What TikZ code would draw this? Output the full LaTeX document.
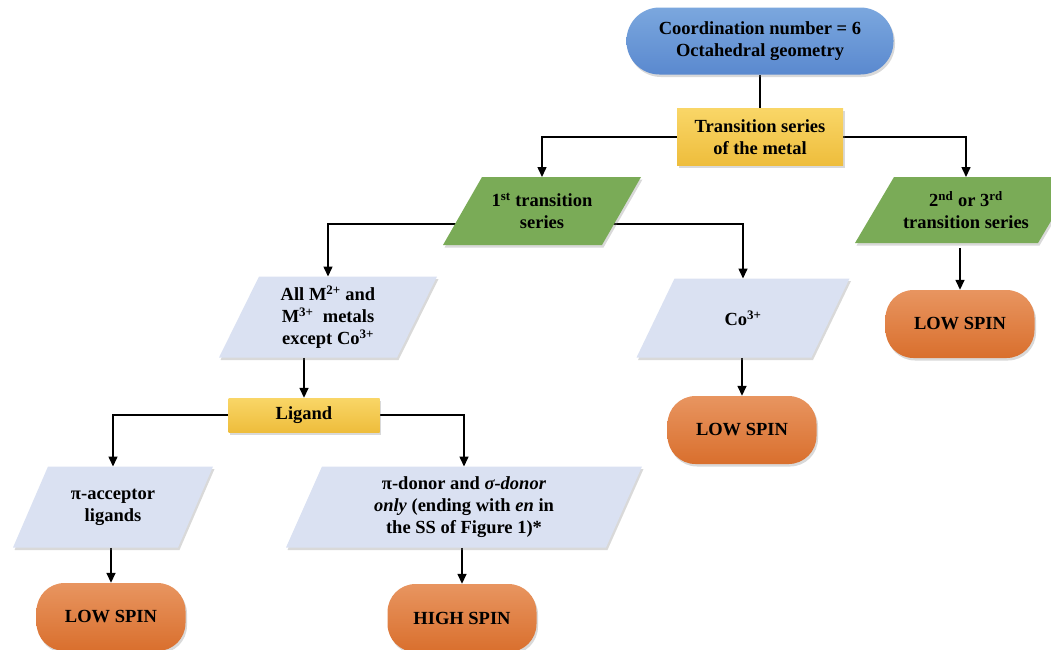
\documentclass[tikz,border=0pt]{standalone}
\usepackage{fontspec}
\setmainfont{Liberation Serif}
\usetikzlibrary{positioning,shadows,backgrounds,arrows.meta}
\definecolor{blueT}{HTML}{7BA7DE}
\definecolor{blueB}{HTML}{5A89CF}
\definecolor{yelT}{HTML}{F9D667}
\definecolor{yelB}{HTML}{EEBD3C}
\definecolor{grn}{HTML}{7AAB57}
\definecolor{pale}{HTML}{DAE1F2}
\definecolor{orT}{HTML}{E89560}
\definecolor{orB}{HTML}{D96F2D}
\tikzset{dshadow/.style={drop shadow={shadow xshift=1.5pt, shadow yshift=-2.5pt, opacity=0.3}}}
\tikzset{term/.style={rectangle, rounded corners=33pt, align=center, dshadow}}
\tikzset{spin/.style={rectangle, rounded corners=28pt, top color=orT, bottom color=orB, minimum width=149pt, minimum height=68pt, dshadow}}
\tikzset{ybox/.style={rectangle, top color=yelT, bottom color=yelB, align=center, dshadow}}
\tikzset{conn/.style={draw, line width=1.5pt}}
\tikzset{arr/.style={conn, -{Triangle[length=10pt, width=9pt]}}}
% slanted box: name, x, y, total width, height, slant, colour, text
\newcommand{\parabox}[8]{%
	\fill[#7, dshadow] ({#2-#4/2},{#3+#5/2}) -- ({#2+#4/2-#6},{#3+#5/2})
		-- ({#2+#4/2},{#3-#5/2}) -- ({#2-#4/2+#6},{#3-#5/2}) -- cycle;
	\node[align=center, outer sep=0pt, minimum width={(#4-#6)*1pt}, minimum height={#5*1pt}] (#1) at (#2,#3) {#8};
}

\begin{document}
\begin{tikzpicture}[x=1pt, y=-1pt, font=\fontsize{18.5}{22}\selectfont\bfseries]
	\useasboundingbox (0,0) rectangle (1051,649);

	% top of the chart
	\node[term, top color=blueT, bottom color=blueB, minimum width=267pt, minimum height=67pt] (coord) at (760,41) {Coordination number = 6\\Octahedral geometry};
	\node[ybox, minimum width=166pt, minimum height=57pt] (trans) at (760,137) {Transition series\\of the metal};

	% series
	\parabox{first}{542}{211}{198}{68}{39}{grn}{1\textsuperscript{st} transition\\series}
	\parabox{second}{966}{210}{222}{66}{39}{grn}{2\textsuperscript{nd} or 3\textsuperscript{rd}\\transition series}
	\node[spin] (lowB) at (960,324) {LOW SPIN};

	% 1st series
	\parabox{allm}{328}{317}{218}{81}{40}{pale}{All M\textsuperscript{2+} and\\M\textsuperscript{3+}\ \ metals\\except Co\textsuperscript{3+}}
	\parabox{co}{743}{318}{213}{79}{38}{pale}{Co\textsuperscript{3+}}
	\node[spin] (lowC) at (742,430) {LOW SPIN};
	\node[ybox, minimum width=151pt, minimum height=34pt] (ligand) at (304,415) {Ligand};

	% ligands
	\parabox{piacc}{113}{507}{200}{81}{35}{pale}{π-acceptor\\ligands}
	\parabox{pidon}{464}{507}{356}{81}{36}{pale}{π-donor and \textit{σ-donor}\\\textit{only} (ending with \textit{en} in\\the SS of Figure 1)*}
	\node[spin] (lowA) at (111,617) {LOW SPIN};
	\node[spin] (high) at (462,618) {HIGH SPIN};

	\begin{scope}[on background layer]
		\draw[conn] (coord.south) -- (trans.north);
		\draw[arr] (trans.west) -| (first.north);
		\draw[arr] (trans.east) -| (second.north);
		\draw[arr] ([yshift=-13pt]first.center) -| (allm.north);
		\draw[arr] ([yshift=-13pt]first.center) -| (co.north);
		\draw[arr, shorten <=5pt] (lowB.north |- second.south) -- (lowB.north);
		\draw[arr] (lowC.north |- co.south) -- (lowC.north);
		\draw[arr] (allm.south -| ligand.north) -- (ligand.north);
		\draw[arr] (ligand.west) -| (piacc.north);
		\draw[arr] (ligand.east) -| (pidon.north);
		\draw[arr] (lowA.north |- piacc.south) -- (lowA.north);
		\draw[arr] (high.north |- pidon.south) -- (high.north);
	\end{scope}
\end{tikzpicture}
\end{document}
